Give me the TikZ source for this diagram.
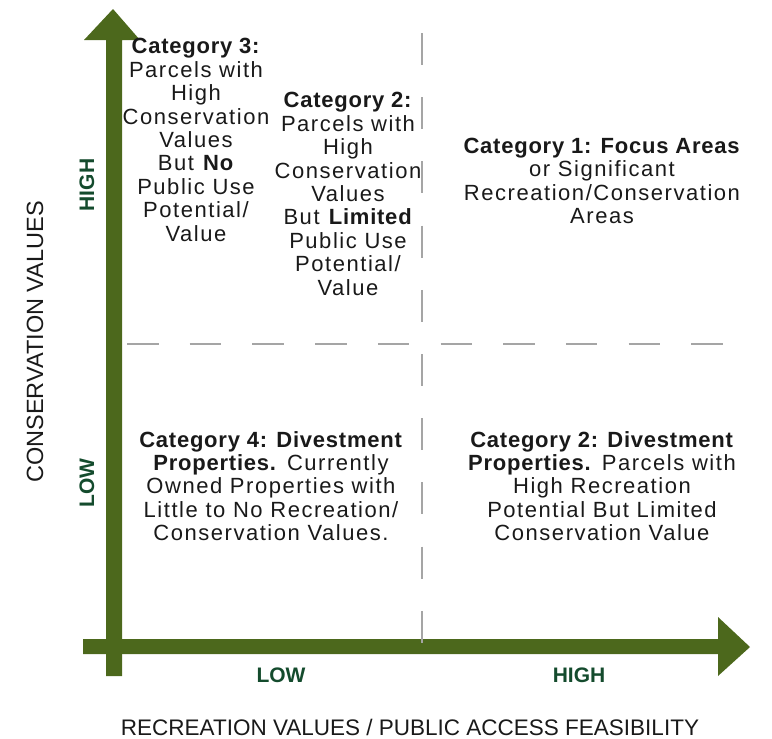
\documentclass[tikz,border=0pt]{standalone}
\usepackage{fontspec}
\setmainfont{Liberation Sans}
\newfontfamily\qfont[LetterSpace=7,BoldFeatures={LetterSpace=3.5}]{Liberation Sans}
\definecolor{axisgreen}{RGB}{76,104,28}
\definecolor{labelgreen}{RGB}{20,75,45}
\definecolor{dashgray}{RGB}{165,165,165}
\tikzset{
  quad/.style={align=center, font=\qfont\fontsize{22}{23.4}\selectfont, text=black!90, inner sep=0pt},
  axlab/.style={font=\bfseries\fontsize{21}{24}\selectfont, text=labelgreen, inner sep=0pt},
  axtitle/.style={font=\fontsize{22.5}{26}\selectfont, text=black!90, inner sep=0pt},
  divider/.style={draw=dashgray, line width=2pt},
}
\begin{document}
\begin{tikzpicture}[x=1pt,y=-1pt]
\useasboundingbox (0,0) rectangle (772,739);
% axes
\fill[axisgreen] (106,676) -- (106,40) -- (84,40) -- (113,9) -- (140,40) -- (122,40) -- (122,676) -- cycle;
\fill[axisgreen] (83,639) -- (718,639) -- (718,617) -- (750,647) -- (718,676) -- (718,654) -- (83,654) -- cycle;
% dividers
\coordinate (h1) at (127,344);
\coordinate (h2) at (723,344);
\coordinate (v1) at (422,33);
\coordinate (v2) at (422,643);
\draw[divider, dash pattern=on 31.5pt off 31.2pt] (h1) -- (h2);
\draw[divider, dash pattern=on 32pt off 32.2pt] (v1) -- (v2);
% quadrant texts
\node[quad] (c3) at (196,140) {\textbf{Category 3:}\\Parcels with\\High\\Conservation\\Values\\But \textbf{No}\\Public Use\\Potential/\\Value};
\node[quad] (c2a) at (348,194) {\textbf{Category 2:}\\Parcels with\\High\\Conservation\\Values\\But \textbf{Limited}\\Public Use\\Potential/\\Value};
\node[quad] (c1) at (602,181) {\textbf{Category 1: Focus Areas}\\or Significant\\Recreation/Conservation\\Areas};
\node[quad] (c4) at (271,486) {\textbf{Category 4: Divestment}\\\textbf{Properties.} Currently\\Owned Properties with\\Little to No Recreation/\\Conservation Values.};
\node[quad] (c2b) at (602,486) {\textbf{Category 2: Divestment}\\\textbf{Properties.} Parcels with\\High Recreation\\Potential But Limited\\Conservation Value};
% axis labels
\node[axlab, rotate=90] (yhigh) at (87,185) {HIGH};
\node[axlab, rotate=90] (ylow) at (87,483) {LOW};
\node[axlab] (xlow) at (281,675) {LOW};
\node[axlab] (xhigh) at (579,675) {HIGH};
\node[axtitle, font=\fontsize{23.5}{26}\selectfont, rotate=90] (ytitle) at (35,342) {CONSERVATION VALUES};
\node[axtitle] (xtitle) at (410,727) {RECREATION VALUES / PUBLIC ACCESS FEASIBILITY};
\end{tikzpicture}
\end{document}
